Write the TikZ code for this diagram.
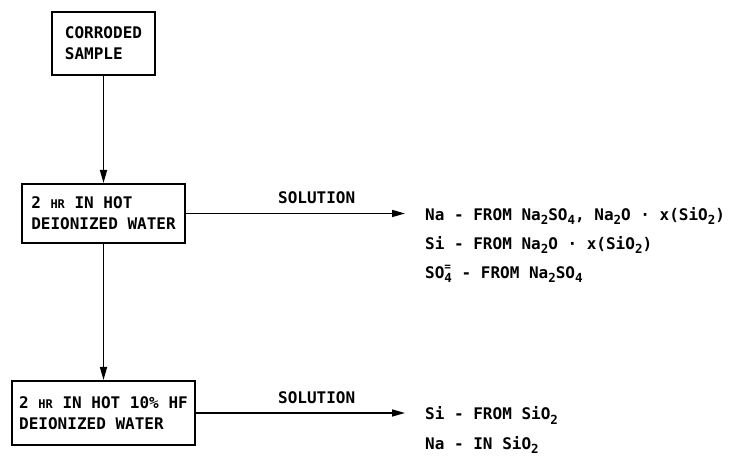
\documentclass[tikz,border=0pt]{standalone}
\usepackage{fontspec}
\setmainfont{DejaVu Sans Mono}
\usetikzlibrary{positioning,arrows.meta,calc}
\newcommand{\chemsub}[1]{\raisebox{-0.5ex}{\fontsize{12.5}{12.5}\selectfont #1}}
\newcommand{\smallhr}{{\fontsize{12}{12}\selectfont HR}}

\begin{document}
\begin{tikzpicture}[x=1pt,y=1pt,font=\fontsize{16}{21}\selectfont\bfseries,>={Triangle[length=13pt,width=7pt]},
box/.style={draw,line width=2pt,align=left,inner sep=0pt},
arr/.style={->,line width=1.5pt},
res/.style={inner sep=0pt,anchor=base west},
lbl/.style={inner sep=0pt,anchor=base west}]
\useasboundingbox (0,0) rectangle (733,455);
\node[box,minimum width=103pt,minimum height=63pt] (sample) at (103.5,411.5) {CORRODED\\SAMPLE};
\node[box,minimum width=163pt,minimum height=59pt,below=107pt of sample] (water) {2 \smallhr{} IN HOT\\DEIONIZED WATER};
\node[box,minimum width=183pt,minimum height=64pt,below=136pt of water] (hf) {2 \smallhr{} IN HOT 10\% HF\\DEIONIZED WATER};
\coordinate (tipx) at (405,0);
\coordinate (tip1) at (water.east -| tipx);
\coordinate (tip2) at (hf.east -| tipx);
\draw[arr] (sample) -- (water);
\draw[arr] (water) -- (hf);
\draw[arr] (water.east) -- (tip1);
\draw[arr] (hf.east) -- (tip2);
\node[lbl] (sol1) at ($(tip1)+(-127,10)$) {SOLUTION};
\node[lbl] (sol2) at ($(tip2)+(-127,10)$) {SOLUTION};
\node[res] (na1) at ($(tip1)+(20,-7)$) {Na - FROM Na\chemsub{2}SO\chemsub{4}, Na\chemsub{2}O · x(SiO\chemsub{2})};
\node[res] (si1) at ($(na1.base west)+(0,-29)$) {Si - FROM Na\chemsub{2}O · x(SiO\chemsub{2})};
\node[res] (so1) at ($(si1.base west)+(0,-29)$) {SO\rlap{\raisebox{0.9ex}{\fontsize{11}{11}\selectfont =}}\chemsub{4} - FROM Na\chemsub{2}SO\chemsub{4}};
\node[res] (si2) at ($(tip2)+(20,-7)$) {Si - FROM SiO\chemsub{2}};
\node[res] (na2) at ($(si2.base west)+(0,-29)$) {Na - IN SiO\chemsub{2}};
\end{tikzpicture}
\end{document}
